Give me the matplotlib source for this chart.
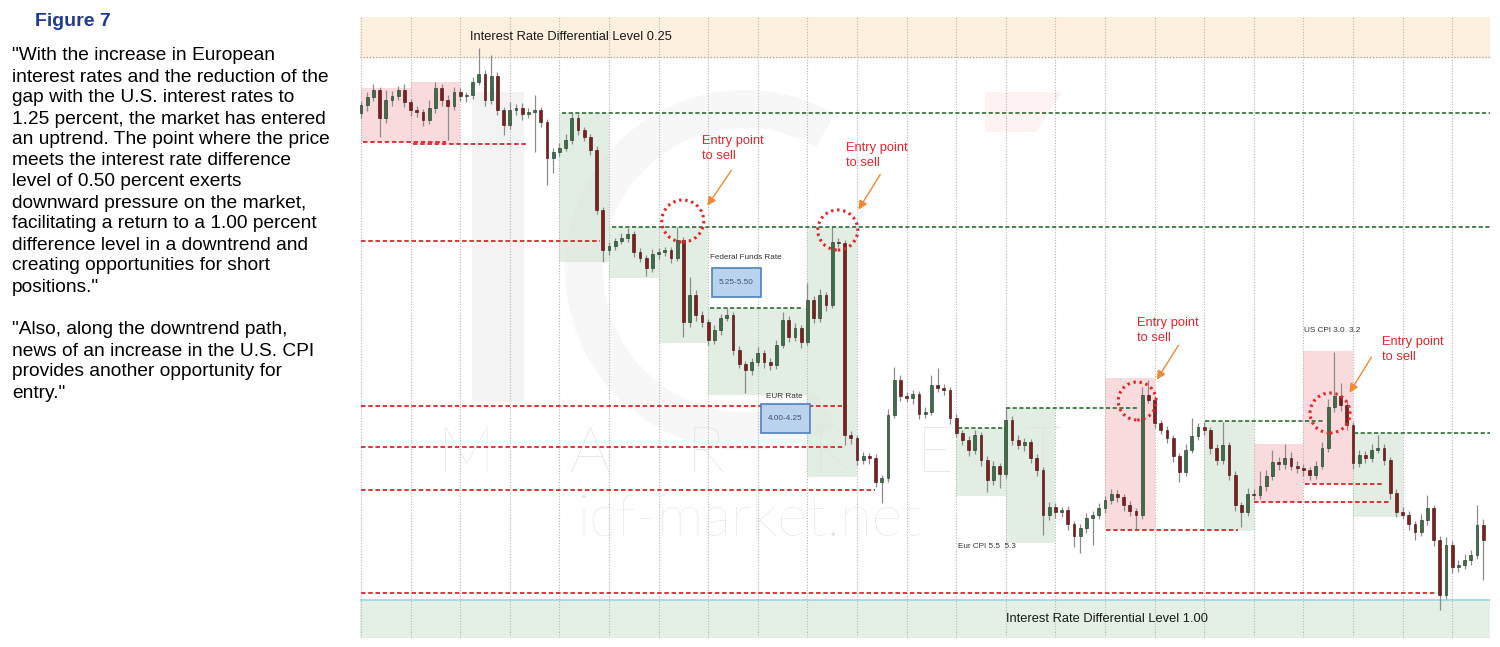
import numpy as np
import matplotlib.pyplot as plt
from matplotlib.patches import Rectangle, Ellipse, Wedge, Polygon
from matplotlib.transforms import Affine2D

plt.rcParams['font.family'] = ['Liberation Sans', 'DejaVu Sans']

## candle data (one bar per entry, open = previous close)
first_open = 1.0925
closes = [
    1.0933, 1.0941, 1.0948, 1.0920, 1.0938, 1.0942, 1.0948, 1.0936, 1.0928, 1.0926,
    1.0918, 1.0930, 1.0950, 1.0938, 1.0932, 1.0946, 1.0942, 1.0943, 1.0956, 1.0964,
    1.0938, 1.0962, 1.0928, 1.0913, 1.0928, 1.0930, 1.0924, 1.0926, 1.0928, 1.0916,
    1.0880, 1.0886, 1.0890, 1.0898, 1.0920, 1.0908, 1.0901, 1.0888, 1.0828, 1.0788,
    1.0792, 1.0797, 1.0800, 1.0804, 1.0786, 1.0780, 1.0770, 1.0784, 1.0786, 1.0788,
    1.0780, 1.0798, 1.0716, 1.0743, 1.0723, 1.0716, 1.0698, 1.0708, 1.0720, 1.0723,
    1.0688, 1.0674, 1.0668, 1.0676, 1.0685, 1.0676, 1.0673, 1.0693, 1.0718, 1.0701,
    1.0710, 1.0696, 1.0738, 1.0720, 1.0743, 1.0733, 1.0796, 1.0795, 1.0603, 1.0600,
    1.0578, 1.0582, 1.0580, 1.0556, 1.0560, 1.0623, 1.0658, 1.0642, 1.0640, 1.0644,
    1.0624, 1.0626, 1.0653, 1.0650, 1.0648, 1.0620, 1.0605, 1.0598, 1.0588, 1.0603,
    1.0578, 1.0558, 1.0572, 1.0564, 1.0618, 1.0598, 1.0593, 1.0596, 1.0580, 1.0568,
    1.0523, 1.0531, 1.0526, 1.0528, 1.0514, 1.0502, 1.0510, 1.0520, 1.0523, 1.0530,
    1.0538, 1.0544, 1.0541, 1.0533, 1.0527, 1.0523, 1.0643, 1.0638, 1.0615, 1.0608,
    1.0600, 1.0582, 1.0566, 1.0588, 1.0602, 1.0611, 1.0608, 1.0590, 1.0578, 1.0593,
    1.0563, 1.0533, 1.0526, 1.0544, 1.0543, 1.0552, 1.0562, 1.0576, 1.0574, 1.0580,
    1.0572, 1.0570, 1.0568, 1.0563, 1.0572, 1.0590, 1.0631, 1.0642, 1.0633, 1.0613,
    1.0575, 1.0583, 1.0580, 1.0588, 1.0590, 1.0578, 1.0545, 1.0526, 1.0523, 1.0514,
    1.0506, 1.0518, 1.0530, 1.0498, 1.0443, 1.0493, 1.0471, 1.0473, 1.0478, 1.0483,
    1.0513, 1.0498]
# wick lengths in pips above / below the body
wick_up = [
    4, 5, 6, 3, 10, 5, 4, 6, 3, 4,
    3, 8, 6, 4, 5, 5, 4, 3, 5, 26,
    4, 21, 4, 3, 8, 4, 5, 4, 15, 3,
    3, 4, 5, 6, 5, 4, 3, 3, 4, 3,
    4, 3, 5, 6, 3, 4, 3, 5, 4, 3,
    3, 13, 3, 18, 5, 4, 3, 5, 4, 7,
    3, 4, 3, 4, 6, 3, 4, 5, 8, 4,
    5, 3, 17, 4, 6, 3, 15, 4, 3, 4,
    3, 4, 3, 4, 3, 6, 13, 5, 4, 4,
    3, 5, 10, 17, 4, 3, 4, 3, 4, 5,
    3, 4, 5, 3, 12, 4, 5, 4, 3, 4,
    3, 5, 4, 3, 4, 3, 4, 5, 4, 5,
    4, 5, 4, 3, 4, 3, 8, 15, 4, 3,
    4, 3, 3, 6, 18, 4, 5, 3, 4, 23,
    3, 4, 3, 6, 5, 15, 6, 12, 5, 14,
    6, 5, 4, 3, 5, 6, 8, 44, 13, 4,
    3, 5, 4, 6, 13, 4, 3, 4, 5, 4,
    3, 6, 13, 3, 4, 8, 4, 5, 6, 5,
    20, 6]
wick_dn = [
    5, 6, 4, 19, 5, 6, 4, 5, 6, 5,
    6, 4, 5, 6, 34, 4, 5, 6, 4, 3,
    6, 4, 5, 10, 4, 5, 6, 4, 40, 5,
    27, 15, 4, 3, 4, 5, 4, 5, 4, 12,
    5, 4, 3, 4, 5, 4, 8, 4, 5, 4,
    5, 3, 15, 5, 6, 5, 5, 4, 5, 3,
    5, 4, 23, 5, 4, 6, 5, 4, 3, 5,
    4, 6, 3, 5, 4, 6, 3, 4, 10, 6,
    5, 4, 6, 5, 21, 4, 3, 5, 4, 6,
    5, 4, 3, 4, 5, 6, 4, 5, 6, 4,
    6, 12, 5, 14, 4, 5, 4, 6, 5, 6,
    20, 5, 6, 5, 6, 11, 17, 5, 27, 4,
    5, 4, 5, 6, 5, 15, 4, 3, 5, 4,
    5, 6, 10, 4, 3, 4, 5, 6, 5, 4,
    5, 6, 15, 4, 5, 4, 5, 4, 6, 5,
    4, 5, 6, 5, 4, 3, 4, 5, 6, 5,
    6, 4, 5, 4, 3, 5, 6, 5, 4, 6,
    8, 4, 5, 6, 15, 4, 6, 5, 4, 5,
    4, 40]
pip = 0.0001

## zones: (bar start, bar end, price low, price high)
pink_zones = [(0, 8, 1.0896, 1.0950), (8, 16, 1.0894, 1.0956),
              (120, 128, 1.0508, 1.0660), (144, 152, 1.0536, 1.0594),
              (152, 160, 1.0554, 1.0687)]
green_zones = [(32, 40, 1.0776, 1.0925), (40, 48, 1.0760, 1.0811),
               (48, 56, 1.0695, 1.0811), (56, 72, 1.0643, 1.0730),
               (72, 80, 1.0561, 1.0811), (96, 104, 1.0542, 1.0610),
               (104, 112, 1.0495, 1.0630), (136, 144, 1.0507, 1.0617),
               (160, 168, 1.0521, 1.0605)]

## support / resistance levels: (bar start, bar end, price)
red_levels = [(0.3, 13.7, 1.0896), (8.4, 27.0, 1.0894), (0, 38.5, 1.0797),
              (0, 77.6, 1.0632), (0, 78.0, 1.0591), (0, 82.9, 1.0548),
              (0, 173.2, 1.0445), (120.2, 141.5, 1.0508), (144, 166, 1.0536),
              (152.3, 164.8, 1.0554)]
green_levels = [(32.4, 182.2, 1.0925), (40.5, 182.2, 1.0811), (56.3, 71.1, 1.0730),
                (96.3, 104, 1.0610), (104, 125.2, 1.0630), (136.1, 155.5, 1.0617),
                (160.2, 182.2, 1.0605)]

## entry points: circle centre, radius (px), label spot, arrow tail / head
entry_x = [51.9, 76.9, 125.2, 156.3]
entry_y = [1.0817, 1.0808, 1.0637, 1.0625]
entry_r = [21, 20, 19, 20]
label_x = [55.0, 78.2, 125.2, 164.7]
label_y = [1.0903, 1.0896, 1.0721, 1.0702]
arrow_tail = [(60.0, 1.0870), (84.0, 1.0866), (132.1, 1.0695), (163.2, 1.0683)]
arrow_head = [(55.6, 1.0830), (80.0, 1.0826), (128.1, 1.0656), (159.2, 1.0643)]

band_top = (1.0981, 1.1021)
band_bottom = (1.0400, 1.0438)

intro = ['"With the increase in European',
         'interest rates and the reduction of the',
         'gap with the U.S. interest rates to',
         '1.25 percent, the market has entered',
         'an uptrend. The point where the price',
         'meets the interest rate difference',
         'level of 0.50 percent exerts',
         'downward pressure on the market,',
         'facilitating a return to a 1.00 percent',
         'difference level in a downtrend and',
         'creating opportunities for short',
         'positions."']
outro = ['"Also, along the downtrend path,',
         'news of an increase in the U.S. CPI',
         'provides another opportunity for',
         'entry."']

W, H = 1500, 647
fig = plt.figure(figsize=(W / 100, H / 100), dpi=100)
ax = fig.add_axes([360 / W, 9 / H, 1130 / W, 621 / H])
x0, x1 = -0.16, 182.1
y0, y1 = 1.0400, 1.1021
ax.set_xlim(x0, x1)
ax.set_ylim(y0, y1)
for s in ax.spines.values():
    s.set_visible(False)
ax.set_xticks([])
ax.set_yticks([])

# pixel helper for the faint watermark (top-left origin)
px = Affine2D().scale(1 / W, -1 / H).translate(0, 1) + fig.transFigure

## background bands
ax.axhspan(*band_top, color='#FDF0DF', zorder=0)
ax.axhspan(*band_bottom, color='#E4F0E6', zorder=0)
ax.axhline(band_top[0], color='#A0A0A0', lw=0.9, ls=(0, (1, 1.5)), zorder=2)
ax.axhline(band_bottom[1], color='#9EDCE0', lw=1.3, zorder=2)

for a, b, lo, hi in pink_zones:
    ax.add_patch(Rectangle((a, lo), b - a, hi - lo, color='#F9DADD', lw=0, zorder=1))
for a, b, lo, hi in green_zones:
    ax.add_patch(Rectangle((a, lo), b - a, hi - lo, color='#E2EEE3', lw=0, zorder=1))

## watermark
wm = '#D8D8D8'
ax.add_patch(Rectangle((472, 92), 52, 310, color=wm, alpha=0.3, lw=0, transform=px, zorder=1.5))
ax.add_patch(Wedge((745, 270), 180, 60, 300, width=38, color=wm, alpha=0.18, lw=0,
                   transform=px, zorder=1.5))
ax.add_patch(Polygon([(985, 92), (1062, 92), (1036, 132), (985, 132)], closed=True,
                     color='#F3B5B5', alpha=0.15, lw=0, transform=px, zorder=1.5))
for xm, ch in zip([466, 590, 705, 832, 935, 1042], 'MARKET'):
    ax.text(xm, 455, ch, transform=px, fontsize=46, color='#E2E2E2', ha='center',
            va='center', family=['Lato', 'DejaVu Sans'], fontweight='light', zorder=1.5)
ax.text(750, 520, 'icf-market.net', transform=px, fontsize=42, color='#E3E3E3',
        ha='center', va='center', family=['Lato', 'DejaVu Sans'], fontweight='light', zorder=1.5)

## vertical grid
for g in range(0, len(closes), 8):
    ax.axvline(g, color='#B5B5B5', lw=0.8, ls=(0, (1, 1.5)), zorder=2)

## levels
for a, b, p in red_levels:
    ax.plot([a, b], [p, p], color='#D12B2B', lw=1.3, ls=(0, (2.5, 1.5)), zorder=5)
for a, b, p in green_levels:
    ax.plot([a, b], [p, p], color='#2E6B35', lw=1.2, ls=(0, (2.5, 1.5)), zorder=5)

## candles
c = np.array(closes)
o = np.array([first_open] + closes[:-1])
idx = np.arange(len(c))
top = np.maximum(o, c)
bot = np.minimum(o, c)
hi = top + np.array(wick_up) * pip
lo = bot - np.array(wick_dn) * pip
body = np.maximum(top - bot, 0.00008)
up = c >= o
ax.vlines(idx, lo, hi, color='#8C8C8C', lw=0.9, zorder=3)
ax.bar(idx[up], body[up], bottom=bot[up], width=0.45, color='#3E6E47',
       edgecolor='#1C2E20', lw=0.4, zorder=4)
ax.bar(idx[~up], body[~up], bottom=bot[~up], width=0.45, color='#7E1E1E',
       edgecolor='#3E0C0C', lw=0.4, zorder=4)

## rate boxes and notes
small = dict(fontsize=5.9, color='#333333', va='center', ha='left', zorder=6)
ax.text(56.3, 1.0780, 'Federal Funds Rate', **small)
ax.add_patch(Rectangle((56.6, 1.0741), 7.9, 0.0029, facecolor='#B9D3EE',
                       edgecolor='#4F81BD', lw=1.2, zorder=6))
ax.text(60.55, 1.07555, '5.25-5.50', fontsize=5.9, color='#44546A', ha='center',
        va='center', zorder=7)
ax.text(65.3, 1.0641, 'EUR Rate', **small)
ax.add_patch(Rectangle((64.5, 1.0605), 7.9, 0.0029, facecolor='#B9D3EE',
                       edgecolor='#4F81BD', lw=1.2, zorder=6))
ax.text(68.45, 1.06195, '4.00-4.25', fontsize=5.9, color='#44546A', ha='center',
        va='center', zorder=7)
ax.text(96.3, 1.0491, 'Eur CPI 5.5  5.3', **small)
ax.text(152.1, 1.0707, 'US CPI 3.0  3.2', **small)
ax.text(17.6, 1.1001, 'Interest Rate Differential Level 0.25', fontsize=9.3,
        color='#1A1A1A', va='center', zorder=6)
ax.text(104.0, 1.0419, 'Interest Rate Differential Level 1.00', fontsize=9.3,
        color='#1A1A1A', va='center', zorder=6)

## entry points
ax_w = fig.get_size_inches()[0] * fig.dpi * ax.get_position().width
ax_h = fig.get_size_inches()[1] * fig.dpi * ax.get_position().height
bar_px = ax_w / (x1 - x0)
price_px = ax_h / (y1 - y0)
for i in range(len(entry_x)):
    ax.add_patch(Ellipse((entry_x[i], entry_y[i]), 2 * entry_r[i] / bar_px,
                         2 * entry_r[i] / price_px, fill=False, edgecolor='#E3262A',
                         lw=2.2, ls=(0, (0.8, 1.2)), zorder=8))
    ax.text(label_x[i], label_y[i], 'Entry point\nto sell', fontsize=9.3,
            color='#E3262A', va='top', ha='left', linespacing=1.3, zorder=8)
    ax.annotate('', xy=arrow_head[i], xytext=arrow_tail[i],
                arrowprops=dict(arrowstyle='-|>', color='#EE8A35', lw=1.0,
                                mutation_scale=13), zorder=8)

## left-hand commentary
fig.text(35 / W, 1 - 22 / H, 'Figure 7', fontsize=14, fontweight='bold',
         color='#1F3A8F', va='center', ha='left')
for k, line in enumerate(intro):
    fig.text(12 / W, 1 - (56 + 21 * k) / H, line, fontsize=13.8, va='center', ha='left')
for k, line in enumerate(outro):
    fig.text(12 / W, 1 - (330 + 21 * k) / H, line, fontsize=13.8, va='center', ha='left')

plt.savefig('out.png', dpi=100)
